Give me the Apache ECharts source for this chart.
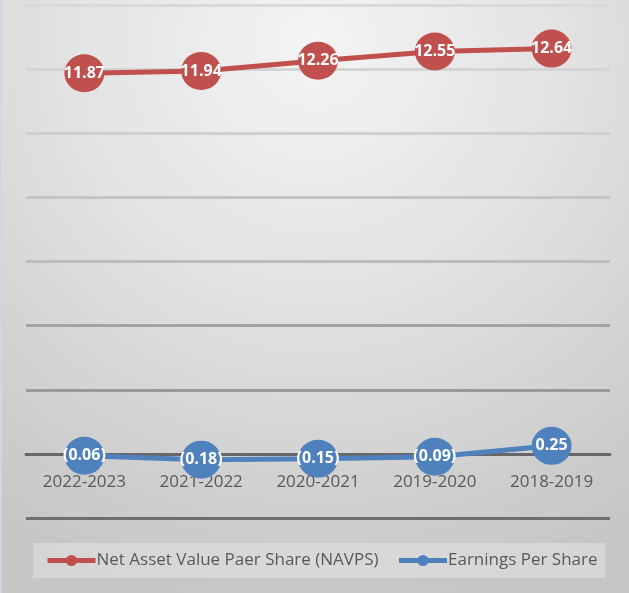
<!DOCTYPE html>
<html>
<head>
<meta charset="utf-8">
<script src="https://cdn.jsdelivr.net/npm/echarts@6/dist/echarts.min.js"></script>
<style>
  html, body { margin: 0; padding: 0; }
  body {
    width: 629px; height: 593px; overflow: hidden;
    background: radial-gradient(ellipse 90% 95% at 50% 8%, #f4f4f4 0%, #e2e2e2 45%, #d2d2d2 75%, #c6c6c6 100%);
  }
  #chart { width: 629px; height: 593px; border-left: 2px solid #cdd8e3; box-sizing: border-box; }
</style>
</head>
<body>
<div id="chart"></div>
<script>
  // data
  const years = ['2022-2023', '2021-2022', '2020-2021', '2019-2020', '2018-2019'];
  const navps = [11.87, 11.94, 12.26, 12.55, 12.64];
  const eps = [-0.06, -0.18, -0.15, -0.09, 0.25];

  const chart = echarts.init(document.getElementById('chart'));

  // negatives shown in brackets, like accounting format
  const fmt = (p) => p.value < 0 ? '(' + Math.abs(p.value).toFixed(2) + ')' : p.value.toFixed(2);

  const label = {
    show: true,
    position: 'inside',
    color: '#fff',
    fontWeight: 'bold',
    fontSize: 16,
    fontFamily: 'Open Sans',
    textBorderWidth: 0,
    formatter: fmt
  };

  const options = {
    animation: false,
    backgroundColor: 'transparent',
    grid: { left: 24, right: 19, top: 5, bottom: 75 },
    legend: {
      top: 543,
      left: 31,
      width: 570,
      itemWidth: 48,
      itemHeight: 14,
      itemGap: 18,
      padding: [9, 8, 9, 12],
      backgroundColor: 'rgba(228,228,228,0.55)',
      lineStyle: { width: 5 },
      textStyle: { color: '#595959', fontSize: 17, fontFamily: 'Open Sans', padding: [0, 0, 0, -4] },
      data: ['Net Asset Value Paer Share (NAVPS)', 'Earnings Per Share']
    },
    xAxis: {
      type: 'category',
      data: years,
      offset: -64,
      axisLine: { onZero: false, lineStyle: { color: '#676767', width: 3 } },
      axisTick: { show: false },
      axisLabel: { color: '#595959', fontSize: 17, fontFamily: 'Open Sans', margin: 20 }
    },
    yAxis: {
      type: 'value',
      min: -2,
      max: 14,
      interval: 2,
      axisLabel: { show: false },
      axisLine: { show: false },
      axisTick: { show: false },
      splitLine: {
        lineStyle: {
          width: 3,
          color: ['#6e6e6e', '#6a6a6a', '#9a9a9a', '#a3a3a3', '#bcbcbc', '#c4c4c4', '#cfcfcf', '#d4d4d4', '#d9d9d9']
        }
      }
    },
    series: [
      {
        name: 'Net Asset Value Paer Share (NAVPS)',
        type: 'line',
        data: navps,
        symbol: 'circle',
        symbolSize: [40, 38],
        lineStyle: { color: '#c0504d', width: 5 },
        itemStyle: { color: '#c0504d', borderColor: '#c0504d', borderWidth: 0 },
        label: label
      },
      {
        name: 'Earnings Per Share',
        type: 'line',
        data: eps,
        symbol: 'circle',
        symbolSize: [40, 38],
        lineStyle: { color: '#4f81bd', width: 5 },
        itemStyle: { color: '#4f81bd', borderColor: '#4f81bd', borderWidth: 0 },
        label: label
      }
    ]
  };
  chart.setOption(options);
</script>
</body>
</html>
